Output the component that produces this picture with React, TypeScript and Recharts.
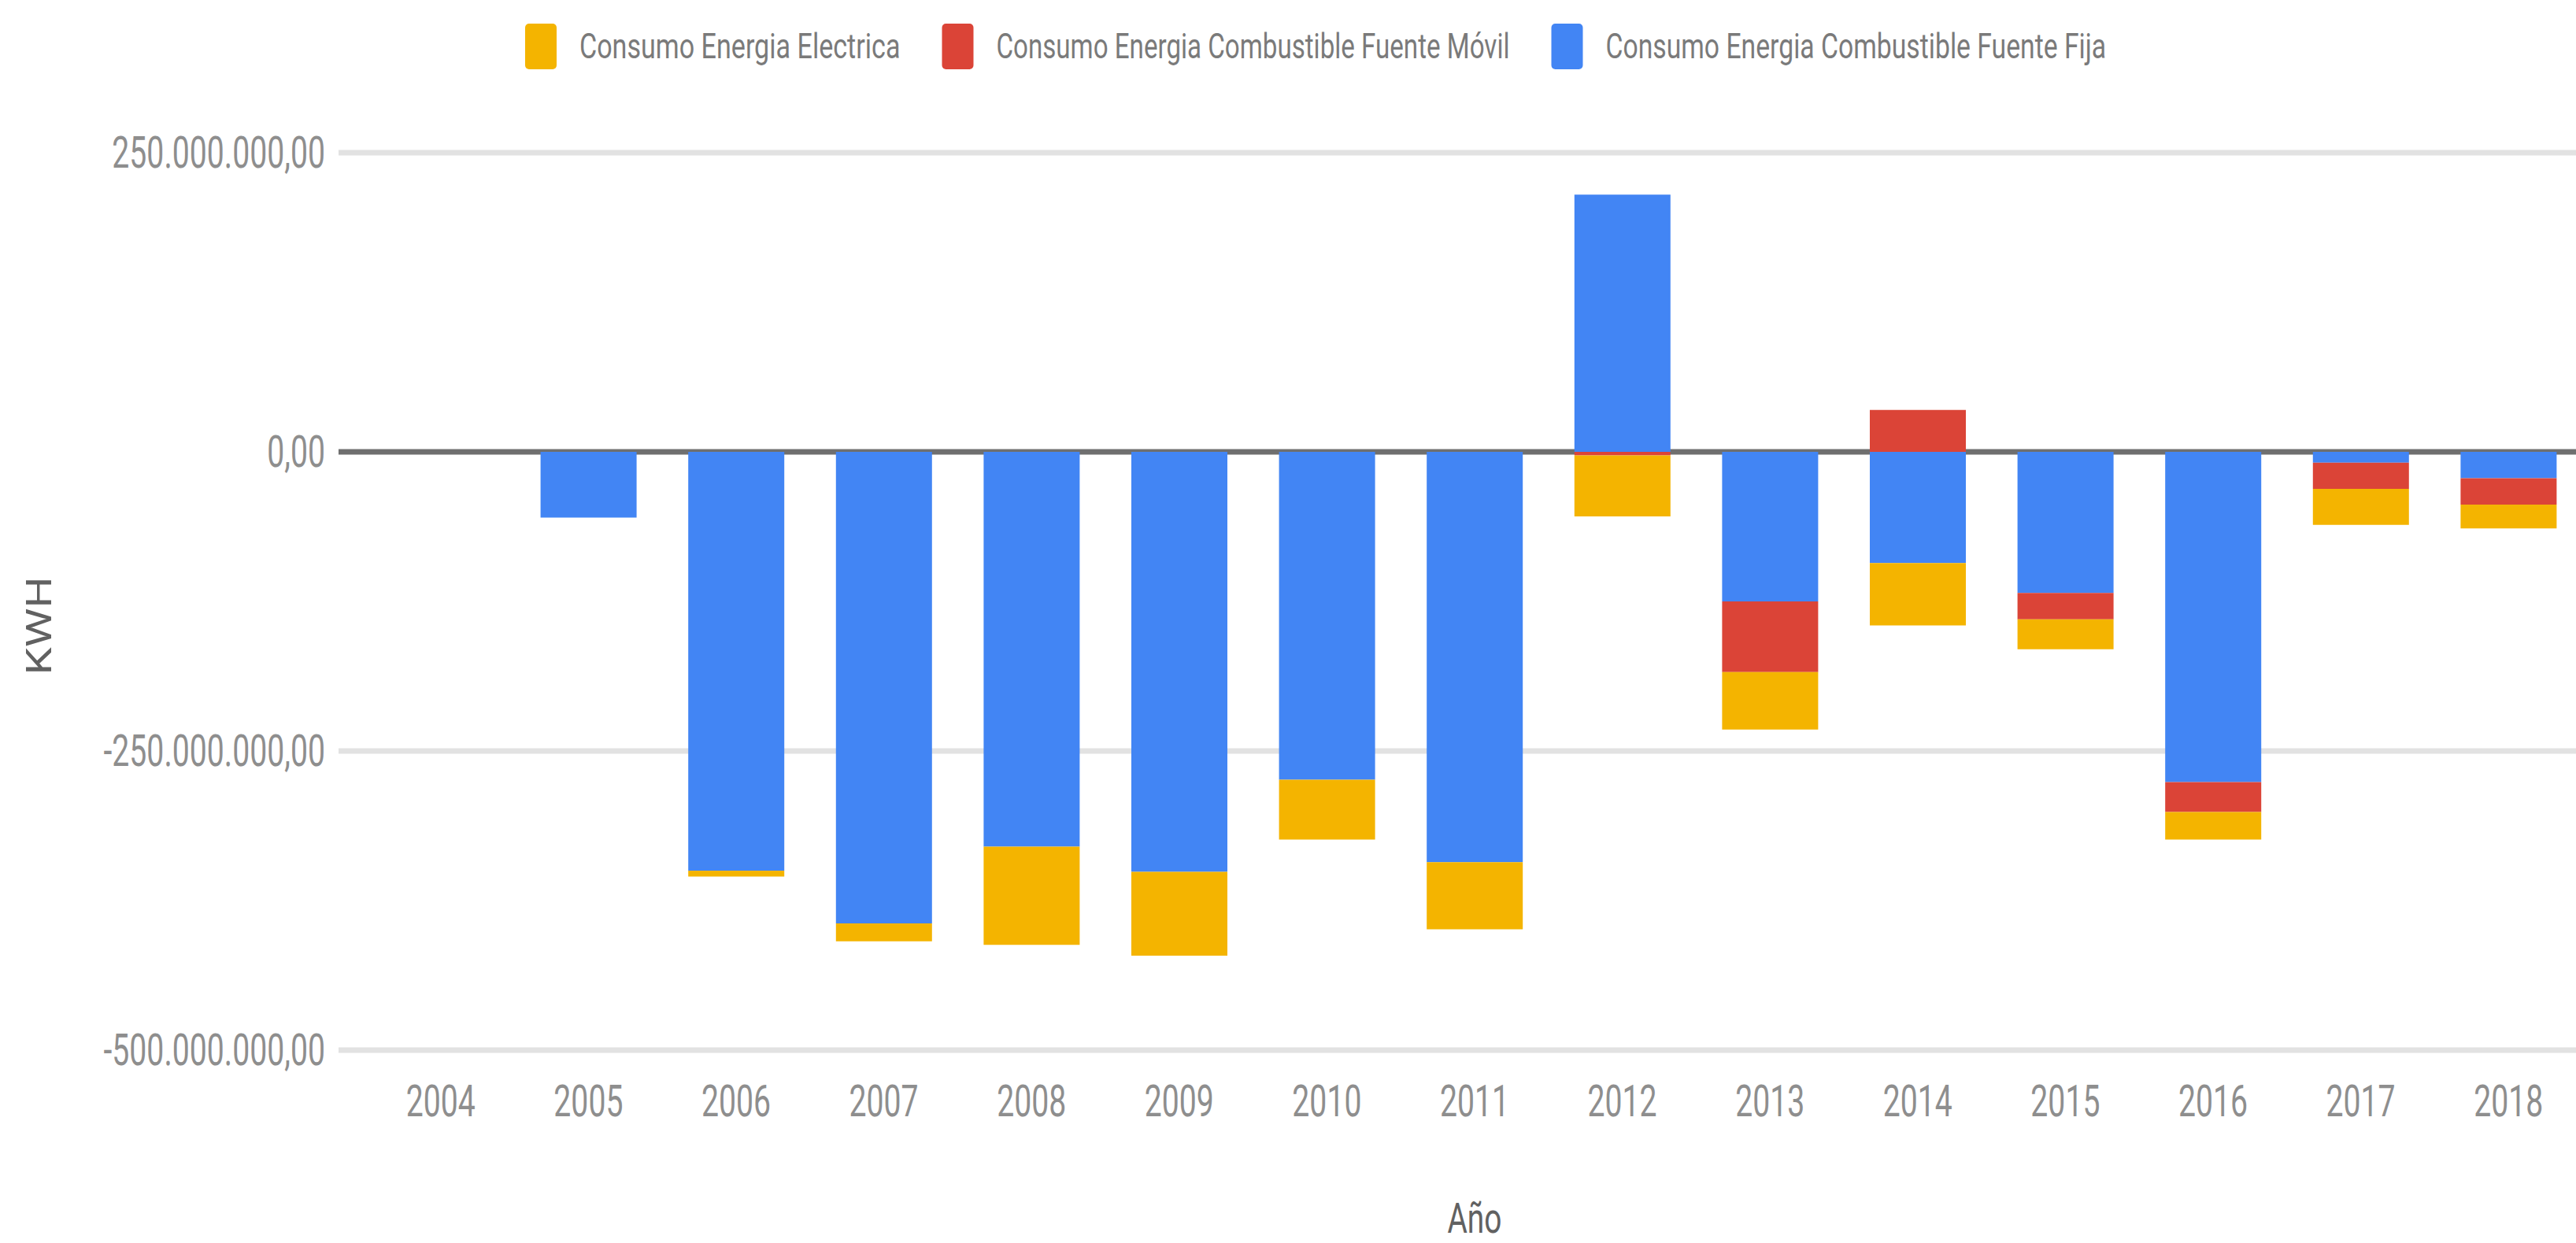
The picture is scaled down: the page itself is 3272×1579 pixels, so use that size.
import { BarChart, Bar, XAxis, YAxis, CartesianGrid, Label } from "recharts";

const years = [
  "2004", "2005", "2006", "2007", "2008", "2009", "2010", "2011",
  "2012", "2013", "2014", "2015", "2016", "2017", "2018",
];

// KWH per year
const fuenteFija = [
  0, -55e6, -350e6, -394e6, -330e6, -351e6, -274e6, -343e6,
  215e6, -125e6, -93e6, -118e6, -276e6, -9e6, -22e6,
];
const fuenteMovil = [
  0, 0, 0, 0, 0, 0, 0, 0,
  -3e6, -59e6, 35e6, -22e6, -25e6, -22e6, -22e6,
];
const electrica = [
  0, 0, -5e6, -15e6, -82e6, -70e6, -50e6, -56e6,
  -51e6, -48e6, -52e6, -25e6, -23e6, -30e6, -20e6,
];

const yTicks = [250e6, 0, -250e6, -500e6];

const series = [
  { key: "electrica", name: "Consumo Energia Electrica", color: "#f4b400" },
  { key: "movil", name: "Consumo Energia Combustible Fuente Móvil", color: "#db4437" },
  { key: "fija", name: "Consumo Energia Combustible Fuente Fija", color: "#4285f4" },
];

const rows = years.map((year, i) => ({
  year,
  fija: fuenteFija[i],
  movil: fuenteMovil[i],
  electrica: electrica[i],
}));

function formatKwh(v: number) {
  const s = Math.abs(Math.round(v))
    .toString()
    .replace(/\B(?=(\d{3})+(?!\d))/g, ".");
  return (v < 0 ? "-" : "") + s + ",00";
}

const FONT = "Roboto, 'Noto Sans', sans-serif";

function YTick({ x, y, payload }: any) {
  return (
    <g transform={`translate(${x},${y}) scale(0.7,1)`}>
      <text x={0} y={0} textAnchor="end" dominantBaseline="central" fontFamily={FONT} fontSize={56} fill="#8e8e8e">
        {formatKwh(payload.value)}
      </text>
    </g>
  );
}

function XTick({ x, y, payload }: any) {
  return (
    <g transform={`translate(${x},${y + 65}) scale(0.7,1)`}>
      <text x={0} y={0} textAnchor="middle" dominantBaseline="central" fontFamily={FONT} fontSize={56} fill="#8e8e8e">
        {payload.value}
      </text>
    </g>
  );
}

function XTitle({ viewBox }: any) {
  const cx = viewBox.x + viewBox.width / 2 + 18;
  return (
    <g transform={`translate(${cx},${viewBox.y + 232}) scale(0.72,1)`}>
      <text x={0} y={0} textAnchor="middle" fontFamily={FONT} fontSize={54} fill="#616161">
        Año
      </text>
    </g>
  );
}

function YTitle({ viewBox }: any) {
  const cy = viewBox.y + viewBox.height / 2 + 31;
  return (
    <g transform={`translate(${viewBox.x + 50},${cy}) rotate(-90) scale(1,0.8)`}>
      <text x={0} y={0} textAnchor="middle" dominantBaseline="central" fontFamily={FONT} fontSize={56} fill="#616161">
        KWH
      </text>
    </g>
  );
}

const LEGEND_SX = 0.75;

function TopLegend() {
  let x = 667;
  const items = series.map((s) => {
    const textW = s.name.length * 16.3;
    const item = (
      <g key={s.key}>
        <rect x={x} y={30} width={40} height={58} rx={5} fill={s.color} />
        <g transform={`translate(${x + 69},59) scale(${LEGEND_SX},1)`}>
          <text
            x={0}
            y={0}
            dominantBaseline="central"
            fontFamily={FONT}
            fontSize={44}
            fill="#7a7a7a"
            textLength={textW / LEGEND_SX}
            lengthAdjust="spacingAndGlyphs"
          >
            {s.name}
          </text>
        </g>
      </g>
    );
    x += 69 + textW + 53;
    return item;
  });
  return (
    <svg width={3272} height={120} style={{ position: "absolute", left: 0, top: 0 }}>
      {items}
    </svg>
  );
}

export default function App() {
  return (
    <div style={{ position: "relative", width: 3272, height: 1579, overflow: "hidden", background: "#fff" }}>
      <style>{`body{margin:0;overflow:hidden}`}</style>
      <BarChart
        width={3290}
        height={1579}
        data={rows}
        margin={{ top: 194, right: 10, bottom: 125, left: 0 }}
        stackOffset="sign"
        barSize={122}
      >
        <CartesianGrid vertical={false} horizontalValues={[250e6, -250e6, -500e6]} stroke="#e2e2e2" strokeWidth={7} />
        <CartesianGrid vertical={false} horizontalValues={[0]} stroke="#6f6f6f" strokeWidth={7} />
        <XAxis
          dataKey="year"
          height={120}
          axisLine={false}
          tickLine={false}
          tickSize={0}
          tickMargin={0}
          interval={0}
          padding={{ left: 36, right: 0 }}
          tick={<XTick />}
        >
          <Label content={<XTitle />} />
        </XAxis>
        <YAxis
          type="number"
          domain={[-500e6, 250e6]}
          ticks={yTicks}
          width={430}
          axisLine={false}
          tickLine={false}
          tickSize={0}
          tickMargin={17}
          tick={<YTick />}
        >
          <Label content={<YTitle />} />
        </YAxis>
        <Bar dataKey="fija" name={series[2].name} stackId="a" fill={series[2].color} isAnimationActive={false} />
        <Bar dataKey="movil" name={series[1].name} stackId="a" fill={series[1].color} isAnimationActive={false} />
        <Bar dataKey="electrica" name={series[0].name} stackId="a" fill={series[0].color} isAnimationActive={false} />
      </BarChart>
      <TopLegend />
    </div>
  );
}
